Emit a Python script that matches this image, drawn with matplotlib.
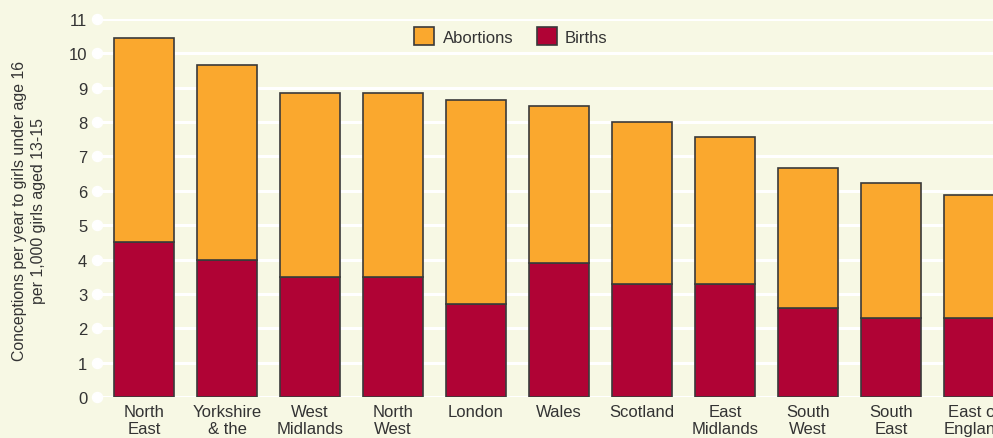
import matplotlib.pyplot as plt
import numpy as np

# regions and values
regions = ["North\nEast", "Yorkshire\n& the\nHumber", "West\nMidlands", "North\nWest",
           "London", "Wales", "Scotland", "East\nMidlands", "South\nWest", "South\nEast",
           "East of\nEngland"]
totals = [10.45, 9.65, 8.85, 8.85, 8.65, 8.47, 8.0, 7.57, 6.65, 6.23, 5.88]
births = [4.5, 4.0, 3.5, 3.5, 2.7, 3.9, 3.3, 3.3, 2.6, 2.3, 2.3]
abortions = [t - b for t, b in zip(totals, births)]
yticks = list(range(0, 12))

bg = "#F7F8E4"
orange = "#FAA82E"
crimson = "#B00335"
edge = "#3a3a3a"
txt = "#333333"

plt.rcParams['font.family'] = ['Liberation Sans', 'DejaVu Sans']

fig = plt.figure(figsize=(9.93, 4.39), dpi=100, facecolor=bg)
ax = fig.add_axes([97 / 993, 1 - 398 / 439, 1 - 97 / 993, 378 / 439])
ax.set_facecolor(bg)

x = np.arange(len(regions))
w = 0.723
ax.bar(x, births, w, color=crimson, edgecolor=edge, linewidth=1.2, label="Births", zorder=3)
ax.bar(x, abortions, w, bottom=births, color=orange, edgecolor=edge, linewidth=1.2,
       label="Abortions", zorder=3)

ax.set_xlim(-0.566, 10.23)
ax.set_ylim(0, 11)
ax.set_yticks(yticks)
ax.set_xticks(x)
ax.set_xticklabels(regions, fontsize=12, color=txt, linespacing=1.2)
ax.tick_params(axis="y", length=0, pad=7, labelsize=12, labelcolor=txt)
ax.tick_params(axis="x", length=0, pad=5)
for s in ax.spines.values():
    s.set_visible(False)

# white gridlines with round dots at the left end
for t in yticks:
    ax.axhline(t, color="white", linewidth=2.2, zorder=1)
ax.scatter([ax.get_xlim()[0]] * len(yticks), yticks, s=52, color="white",
           zorder=2, clip_on=False)

fig.text(29 / 993, 1 - 211 / 439,
         "Conceptions per year to girls under age 16\nper 1,000 girls aged 13-15",
         rotation=90, ha="center", va="center", fontsize=11.4, color=txt,
         linespacing=1.3, multialignment="center")

h, l = ax.get_legend_handles_labels()
fig.legend(h[::-1], l[::-1], loc="center", bbox_to_anchor=(511 / 993, 1 - 37 / 439),
           ncol=2, frameon=False, fontsize=12, handlelength=1.2, handleheight=1.2,
           columnspacing=1.4, handletextpad=0.5, labelcolor=txt)

fig.savefig("out.png", dpi=100, facecolor=bg)
